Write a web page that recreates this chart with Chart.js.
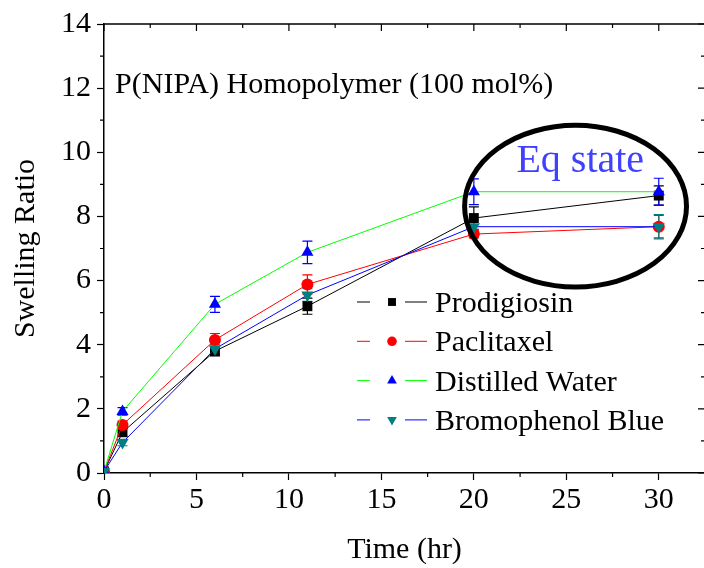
<!DOCTYPE html>
<html>
<head>
<meta charset="utf-8">
<script src="https://cdn.jsdelivr.net/npm/chart.js@4/dist/chart.umd.min.js"></script>
<style>
  html, body { margin: 0; padding: 0; background: #fff; }
  #wrap { width: 704px; height: 568px; overflow: hidden; position: relative; }
  #box { width: 712px; height: 568px; }
</style>
</head>
<body>
<div id="wrap"><div id="box"><canvas id="plot"></canvas></div></div>
<script>
'use strict';

// Time points (hr)
const TIMES = [0, 1, 6, 11, 20, 30];

// Swelling ratio per series
const PRODIGIOSIN = [0.05, 1.27, 3.8, 5.2, 7.95, 8.65];
const PACLITAXEL = [0.05, 1.5, 4.15, 5.88, 7.45, 7.68];
const WATER = [0.05, 1.92, 5.26, 6.88, 8.77, 8.77];
const BROMOPHENOL = [0.05, 0.95, 3.87, 5.55, 7.68, 7.68];

// Error bars (+/-)
const ERR_PRODIGIOSIN = [0, 0.12, 0.15, 0.25, 0.35, 0.3];
const ERR_PACLITAXEL = [0, 0.12, 0.2, 0.3, 0.12, 0.35];
const ERR_WATER = [0, 0.12, 0.25, 0.35, 0.4, 0.42];
const ERR_BROMOPHENOL = [0, 0.1, 0.15, 0.2, 0.22, 0.38];

const LABELS = ["Prodigiosin", "Paclitaxel", "Distilled Water", "Bromophenol Blue"];

const X_TICKS = [0, 5, 10, 15, 20, 25, 30];
const Y_TICKS = [0, 2, 4, 6, 8, 10, 12, 14];

const FONT = "'Liberation Serif', 'Times New Roman', serif";

function pts(ys) {
    return TIMES.map((t, i) => ({ x: t, y: ys[i] }));
}

const series = [
    { label: LABELS[0], data: pts(PRODIGIOSIN), err: ERR_PRODIGIOSIN, line: "#000000", mark: "#000000", style: "rect", r: 7, rot: 0, order: 4 },
    { label: LABELS[1], data: pts(PACLITAXEL), err: ERR_PACLITAXEL, line: "#ff0000", mark: "#ff0000", style: "circle", r: 6, rot: 0, order: 3 },
    { label: LABELS[2], data: pts(WATER), err: ERR_WATER, line: "#00ff00", mark: "#0000ff", style: "triangle", r: 7, rot: 0, order: 2 },
    { label: LABELS[3], data: pts(BROMOPHENOL), err: ERR_BROMOPHENOL, line: "#0000ff", mark: "#008080", style: "triangle", r: 7, rot: 180, order: 1 }
];

const datasets = series.map(s => ({
    label: s.label,
    data: s.data,
    errors: s.err,
    borderColor: s.line,
    borderWidth: 1,
    backgroundColor: s.mark,
    pointBackgroundColor: s.mark,
    pointBorderColor: s.mark,
    pointBorderWidth: 0,
    pointStyle: s.style,
    pointRadius: s.r,
    pointRotation: s.rot,
    order: s.order,
    tension: 0
}));

// error bars, drawn behind the markers
const errorBars = {
    id: 'errorBars',
    beforeDatasetsDraw(chart) {
        const ctx = chart.ctx;
        const xs = chart.scales.x, ys = chart.scales.y;
        ctx.save();
        chart.data.datasets.forEach((ds) => {
            ctx.strokeStyle = ds.pointBackgroundColor;
            ctx.lineWidth = 1.2;
            ds.data.forEach((p, i) => {
                const e = ds.errors[i];
                if (!e) return;
                const px = xs.getPixelForValue(p.x);
                const top = ys.getPixelForValue(p.y + e);
                const bot = ys.getPixelForValue(p.y - e);
                ctx.beginPath();
                ctx.moveTo(px, top); ctx.lineTo(px, bot);
                ctx.moveTo(px - 5, top); ctx.lineTo(px + 5, top);
                ctx.moveTo(px - 5, bot); ctx.lineTo(px + 5, bot);
                ctx.stroke();
            });
        });
        ctx.restore();
    }
};

// minor ticks, top/right frame, annotations and legend
const decorations = {
    id: 'decorations',
    afterDraw(chart) {
        const ctx = chart.ctx;
        const xs = chart.scales.x, ys = chart.scales.y;
        const a = chart.chartArea;
        ctx.save();
        ctx.strokeStyle = '#000';
        ctx.lineWidth = 1.5;

        // frame top and right
        ctx.beginPath();
        ctx.moveTo(a.left, a.top); ctx.lineTo(a.right, a.top); ctx.lineTo(a.right, a.bottom);
        ctx.stroke();

        ctx.lineWidth = 1.2;
        ctx.beginPath();
        for (let v = 0; v <= 32.5; v += 2.5) {
            const px = xs.getPixelForValue(v);
            const major = v % 5 === 0;
            if (!major) { ctx.moveTo(px, a.bottom); ctx.lineTo(px, a.bottom + 4); }
            ctx.moveTo(px, a.top); ctx.lineTo(px, a.top + (major ? 7 : 4));
        }
        for (let v = 0; v <= 14; v += 1) {
            const py = ys.getPixelForValue(v);
            const major = v % 2 === 0;
            if (!major) { ctx.moveTo(a.left, py); ctx.lineTo(a.left - 4, py); }
            ctx.moveTo(a.right, py); ctx.lineTo(a.right - (major ? 7 : 4), py);
        }
        ctx.stroke();

        // Eq state ellipse
        const cx = xs.getPixelForValue(25.5), cy = ys.getPixelForValue(8.32);
        const rx = xs.getPixelForValue(25.5 + 6.0) - cx;
        const ry = cy - ys.getPixelForValue(8.32 + 2.52);
        ctx.lineWidth = 5;
        ctx.beginPath();
        ctx.ellipse(cx, cy, rx, ry, 0, 0, Math.PI * 2);
        ctx.stroke();

        // text annotations
        ctx.textBaseline = 'alphabetic';
        ctx.textAlign = 'left';
        ctx.fillStyle = '#000';
        ctx.font = '30px ' + FONT;
        ctx.fillText('P(NIPA) Homopolymer (100 mol%)', xs.getPixelForValue(0.6), ys.getPixelForValue(11.85));
        ctx.fillStyle = '#4040ff';
        ctx.font = '40px ' + FONT;
        ctx.fillText('Eq state', xs.getPixelForValue(22.3), ys.getPixelForValue(9.38));

        // legend: line - marker - line, label
        const lx = 357, ly = 302, gap = 39.3;
        ctx.font = '30px ' + FONT;
        chart.data.datasets.forEach((ds, i) => {
            const y = ly + i * gap;
            ctx.strokeStyle = ds.borderColor;
            ctx.lineWidth = 1;
            ctx.beginPath();
            ctx.moveTo(lx, y); ctx.lineTo(lx + 13, y);
            ctx.moveTo(lx + 48, y); ctx.lineTo(lx + 70, y);
            ctx.stroke();
            ctx.fillStyle = ds.pointBackgroundColor;
            Chart.helpers.drawPoint(ctx, {
                pointStyle: ds.pointStyle,
                rotation: ds.pointRotation,
                radius: ds.pointRadius * 0.8,
                borderWidth: 0
            }, lx + 35, y);
            ctx.fillStyle = '#000';
            ctx.fillText(ds.label, lx + 78, y + 10);
        });
        ctx.restore();
    }
};

const config = {
    type: 'line',
    data: { datasets: datasets },
    plugins: [errorBars, decorations],
    options: {
        responsive: true,
        maintainAspectRatio: false,
        animation: false,
        layout: { padding: { top: 18, right: 6, left: 0, bottom: 0 } },
        plugins: {
            legend: { display: false },
            tooltip: { enabled: false }
        },
        scales: {
            x: {
                type: 'linear',
                min: 0,
                max: 32.5,
                afterBuildTicks(scale) { scale.ticks = X_TICKS.map(v => ({ value: v })); },
                afterFit(scale) { scale.height = 95; },
                grid: { drawOnChartArea: false, tickLength: 7, tickWidth: 1.2, tickColor: '#000' },
                border: { color: '#000', width: 1.5 },
                ticks: { color: '#000', font: { family: FONT, size: 30 }, padding: 2, maxRotation: 0 },
                title: {
                    display: true, text: 'Time (hr)', color: '#000',
                    font: { family: FONT, size: 30 }, padding: { top: 0, bottom: 0 }
                }
            },
            y: {
                min: 0,
                max: 14,
                afterBuildTicks(scale) { scale.ticks = Y_TICKS.map(v => ({ value: v })); },
                afterFit(scale) { scale.width = 104; },
                grid: { drawOnChartArea: false, tickLength: 7, tickWidth: 1.2, tickColor: '#000' },
                border: { color: '#000', width: 1.5 },
                ticks: { color: '#000', font: { family: FONT, size: 30 }, padding: 6 },
                title: {
                    display: true, text: 'Swelling Ratio', color: '#000',
                    font: { family: FONT, size: 30 }, padding: { top: 8, bottom: 0 }
                }
            }
        }
    }
};

const myChart = new Chart(document.getElementById('plot'), config);
</script>
</body>
</html>
